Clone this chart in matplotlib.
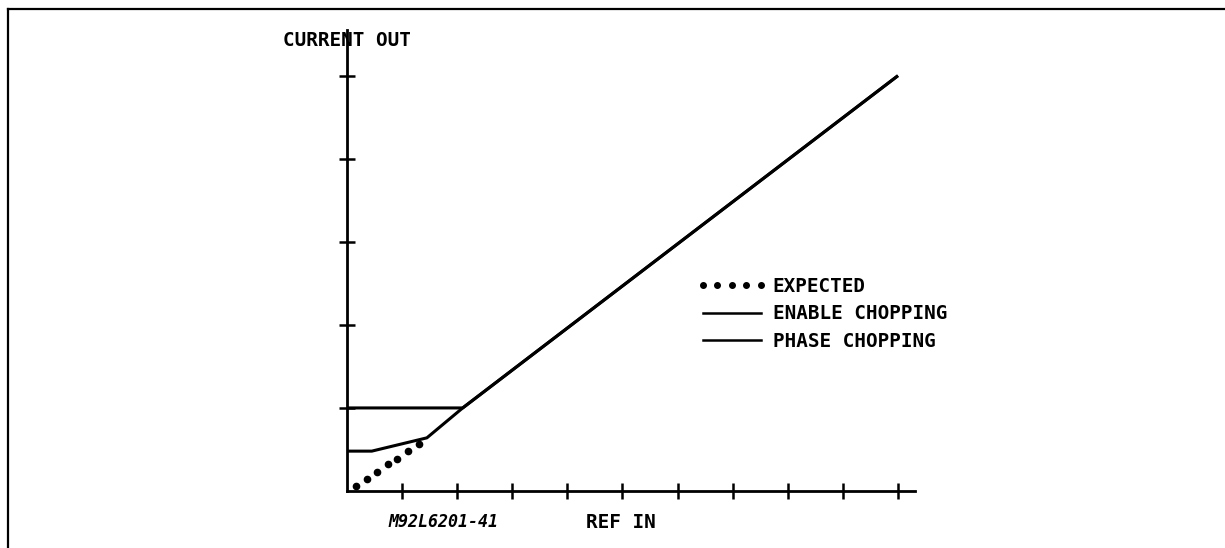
import numpy as np
import matplotlib
matplotlib.use("Agg")
import matplotlib.pyplot as plt
from matplotlib.lines import Line2D

# valores (unidades = marcas de los ejes)
expected_x = [0.16, 0.36, 0.55, 0.74, 0.91, 1.11, 1.31]
expected_y = [0.06, 0.14, 0.23, 0.32, 0.39, 0.48, 0.56]

enable_x = [0, 2.1, 10]
enable_y = [1, 1, 5]

phase_x = [0, 0.45, 1.45, 2.1, 10]
phase_y = [0.48, 0.48, 0.64, 1, 5]

x_ticks = [1, 2, 3, 4, 5, 6, 7, 8, 9, 10]
y_ticks = [1, 2, 3, 4, 5]

labels = ["EXPECTED", "ENABLE CHOPPING", "PHASE CHOPPING"]

fuente = "DejaVu Sans Mono"
tam = 13.9

fig = plt.figure(figsize=(12.25, 5.48), dpi=100)
W, H = 1225, 548

# marco del dibujo (solo arriba e izquierda)
fig.add_artist(Line2D([8 / W, 1], [1 - 9 / H, 1 - 9 / H], color="black", lw=1.6))
fig.add_artist(Line2D([8 / W, 8 / W], [0, 1 - 9 / H], color="black", lw=1.6))

ax = fig.add_axes([347 / W, 57 / H, 567.5 / W, 461 / H])
ax.set_xlim(0, 10.3)
ax.set_ylim(0, 5.55)

ax.plot(enable_x, enable_y, color="black", lw=2.2, solid_capstyle="butt")
ax.plot(phase_x, phase_y, color="black", lw=2.2, solid_capstyle="butt")
ax.plot(expected_x, expected_y, linestyle="none", marker="o", ms=4.5, color="black")

for lado in ["top", "right"]:
    ax.spines[lado].set_visible(False)
for lado in ["left", "bottom"]:
    ax.spines[lado].set_linewidth(2.0)

ax.set_xticks(x_ticks)
ax.set_yticks(y_ticks)
ax.tick_params(direction="inout", length=11, width=1.8, labelbottom=False, labelleft=False)

# leyenda
h_exp = Line2D([], [], linestyle="none", marker="o", ms=4, color="black")
h_en = Line2D([], [], color="black", lw=1.8)
h_ph = Line2D([], [], color="black", lw=1.8)
leg = fig.legend([h_exp, h_en, h_ph], labels, loc="upper left",
                 bbox_to_anchor=(697 / W, 1 - 277 / H), frameon=False,
                 numpoints=5, handlelength=3.6, handletextpad=0.33,
                 labelspacing=0.44, borderpad=0, borderaxespad=0,
                 prop=dict(family=fuente, weight="bold", size=tam))

fig.text(283 / W, 1 - 40 / H, "CURRENT OUT", family=fuente, weight="bold",
         fontsize=tam, va="center", ha="left")
fig.text(586 / W, 1 - 522 / H, "REF IN", family=fuente, weight="bold",
         fontsize=tam, va="center", ha="left")
fig.text(443 / W, 1 - 522 / H, "M92L6201-41", family=fuente, weight="bold",
         style="italic", fontsize=12, va="center", ha="center")

fig.savefig("out.png", dpi=100)
